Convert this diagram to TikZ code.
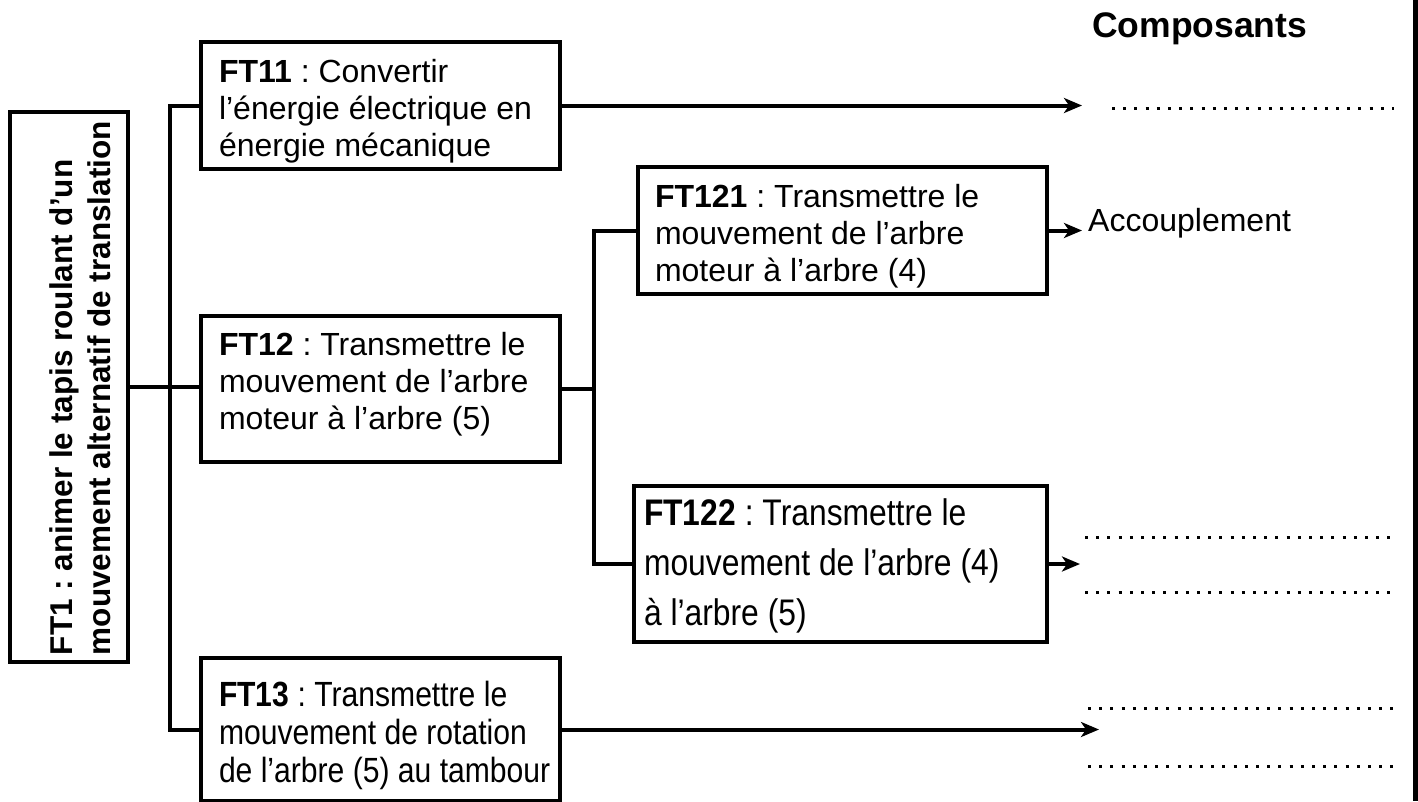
\documentclass[tikz,border=0pt]{standalone}
\usepackage{fontspec}
\setmainfont{Liberation Sans}
\newfontfamily\narrowfont[FakeStretch=0.86]{Liberation Sans}
\usetikzlibrary{arrows.meta}
\newcommand\ftlines[2]{\hbox to #1{\vtop{#2}\hss}}
\newcommand\ftl[1]{\hbox{#1}}
\frenchspacing
\tikzset{
  ftbox/.style={draw, line width=4pt, inner xsep=18pt, inner ysep=0pt, anchor=north west,
    font=\fontsize{32}{37}\selectfont},
  conn/.style={line width=4pt},
  arr/.style={line width=4pt, -{Stealth[length=18pt, width=15pt, inset=5pt]}},
  dotline/.style={line width=3pt, dash pattern=on 3pt off 8.2pt},
}
\begin{document}
\begin{tikzpicture}[x=1pt,y=-1pt]
\useasboundingbox (0,0) rectangle (1418,801);
% Title
\node[anchor=base west, inner sep=0, font=\fontsize{35.5}{40}\selectfont\bfseries] (comp) at (1092,37) {Composants};
% FT1
\node[draw, line width=4pt, minimum width=118pt, minimum height=550pt, inner sep=0pt] (ft1) at (69,387) {};
\node[rotate=90, inner sep=0pt] (ft1t) at (80,387)
  {\ftlines{536pt}{\fontsize{31.5}{38}\selectfont\bfseries
    \ftl{FT1 : animer le tapis roulant d’un}\ftl{mouvement alternatif de translation}}};
% FT11
\node[ftbox, text height=40pt, text depth=87pt] (ft11) at (199,40)
  {\ftlines{323pt}{\ftl{\textbf{FT11} : Convertir}\ftl{l’énergie électrique en}\ftl{énergie mécanique}}};
% FT12
\node[ftbox, text height=39pt, text depth=107pt] (ft12) at (199,314)
  {\ftlines{323pt}{\ftl{\textbf{FT12} : Transmettre le}\ftl{mouvement de l’arbre}\ftl{moteur à l’arbre (5)}}};
% FT13
\node[ftbox, text height=48pt, text depth=95pt,
  font=\fontsize{35}{38}\narrowfont] (ft13) at (199,656)
  {\ftlines{323pt}{\ftl{\textbf{FT13} : Transmettre le}\ftl{mouvement de rotation}\ftl{de l’arbre (5) au tambour}}};
% FT121
\node[ftbox, inner xsep=17pt, text height=40pt, text depth=87pt] (ft121) at (636,165)
  {\ftlines{375pt}{\ftl{\textbf{FT121} : Transmettre le}\ftl{mouvement de l’arbre}\ftl{moteur à l’arbre (4)}}};
% FT122
\node[ftbox, inner xsep=10pt, text height=39pt, text depth=117pt,
  font=\fontsize{37}{50}\narrowfont] (ft122) at (632,484)
  {\ftlines{393pt}{\ftl{\textbf{FT122} : Transmettre le}\ftl{mouvement de l’arbre (4)}\ftl{à l’arbre (5)}}};
% Accouplement
\node[anchor=base west, inner xsep=6pt, inner ysep=0pt, font=\fontsize{32}{37}\selectfont] (acc) at (1082,231) {Accouplement};
% trunks
\coordinate (t1) at (170,387);
\coordinate (t2) at (594,387);
\draw[conn] (ft1.east) -- (ft1.east -| t1);
\draw[conn] (ft11.west) -| (t1) |- (ft13.west);
\draw[conn] (t1) -- (t1 -| ft12.west);
\draw[conn] (ft12.east) -- (ft12.east -| t2);
\draw[conn] (ft121.west) -| (t2) |- (ft122.west);
% arrows
\coordinate (e11) at (1082,0);
\coordinate (e122) at (1080,0);
\coordinate (e13) at (1099,0);
\draw[arr] (ft11.east) -- (ft11.east -| e11);
\draw[arr] (ft121.east) -- (ft121.east -| acc.west);
\draw[arr] (ft122.east) -- (ft122.east -| e122);
\draw[arr] (ft13.east) -- (ft13.east -| e13);
% dotted answer lines
\draw[dotline] (1112,108) -- (1394,108);
\draw[dotline] (1085,537) -- (1396,537);
\draw[dotline] (1085,592) -- (1396,592);
\draw[dotline] (1088,708) -- (1396,708);
\draw[dotline] (1088,766) -- (1396,766);
% right border
\draw[line width=5pt] (1415,0) -- (1415,801);
\end{tikzpicture}
\end{document}
